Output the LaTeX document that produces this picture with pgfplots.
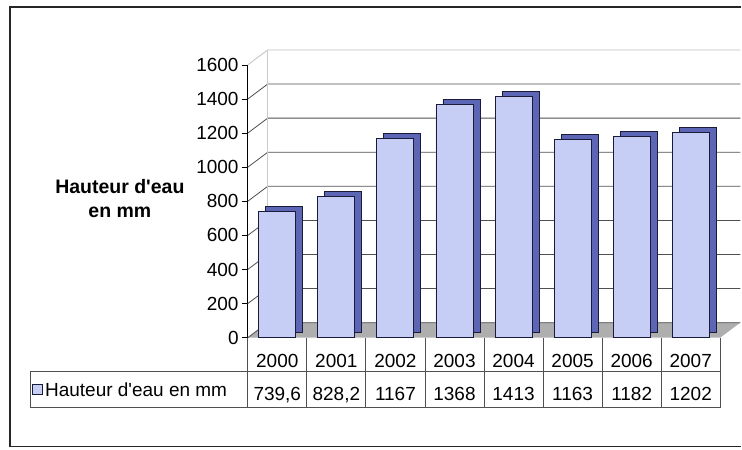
\documentclass[border=0pt]{standalone}
\usepackage{pgfplots}
\pgfplotsset{compat=1.18}
\usepackage{fontspec}
\setmainfont{Liberation Sans}
\definecolor{front}{HTML}{C6CEF5}
\definecolor{side}{HTML}{5C66B4}
\definecolor{edge}{HTML}{1A1A3A}
\definecolor{gridc}{HTML}{505050}
\definecolor{floorc}{HTML}{AEAEAE}
\begin{document}
\begin{tikzpicture}
\fill[white] (0,0) rectangle (742bp,450bp);
\draw[line width=1.5bp, black!85] (742bp,443bp) -- (10bp,443bp) -- (10bp,3bp) -- (742bp,3bp);
\node[font=\bfseries\fontsize{19.5bp}{24bp}\selectfont, align=center] at (120bp,251bp) {Hauteur d\textquotesingle eau\\en mm};
\begin{axis}[
  at={(248bp,112bp)}, anchor=south west,
  scale only axis, width=473bp, height=273bp,
  xmin=-0.5, xmax=7.5, ymin=0, ymax=1600,
  clip=false,
  axis lines*=left,
  x axis line style={draw=none},
  y axis line style={line width=0.8bp, black},
  xtick={0,...,7},
  xticklabels={{2000\\739,6},{2001\\828,2},{2002\\1167},{2003\\1368},{2004\\1413},{2005\\1163},{2006\\1182},{2007\\1202}},
  xtick style={draw=none},
  xticklabel style={align=center, font=\fontsize{19bp}{33bp}\selectfont, anchor=north, inner sep=0pt, yshift=-10bp},
  ytick={0,200,...,1600},
  ytick style={black, line width=0.8bp},
  tick align=outside, major tick length=6bp,
  yticklabel style={font=\fontsize{19bp}{20bp}\selectfont, inner sep=0pt, xshift=-3bp},
  /pgf/number format/assume math mode=true,
  /pgf/number format/1000 sep={},
]
\fill[floorc] (axis cs:-0.5,0) -- (axis cs:7.5,0) -- ++(canvas cs:x=20bp,y=15bp) -- ++(canvas cs:x=-473bp,y=0bp) -- cycle;
\pgfplotsinvokeforeach{0,200,...,1400}{
  \draw[gridc, line width=0.8bp] (axis cs:-0.5,#1) -- ++(canvas cs:x=20bp,y=15bp) -- ++(canvas cs:x=473bp,y=0bp);
}
\draw[gray!50, line width=0.8bp] (axis cs:-0.5,1600) -- ++(canvas cs:x=20bp,y=15bp) -- ++(canvas cs:x=473bp,y=0bp);
\draw[gray!40, line width=0.6bp] (axis cs:-0.5,0) ++(canvas cs:x=20bp,y=15bp) -- ++(canvas cs:x=0bp,y=273bp);
\addplot[ybar, bar shift=0pt, bar width=37bp, fill=side, draw=edge, line width=0.9bp, xshift=7bp, yshift=5bp]
  coordinates {(0,739.6) (1,828.2) (2,1167) (3,1368) (4,1413) (5,1163) (6,1182) (7,1202)};
\addplot[ybar, bar shift=0pt, bar width=37bp, fill=front, draw=edge, line width=0.9bp]
  coordinates {(0,739.6) (1,828.2) (2,1167) (3,1368) (4,1413) (5,1163) (6,1182) (7,1202)};
\pgfplotsinvokeforeach{-0.5,0.5,...,7.5}{
  \draw[gridc, line width=0.8bp] (axis cs:#1,0) -- ++(canvas cs:x=0bp,y=-70bp);
}
\end{axis}
\draw[gridc, line width=0.8bp] (30bp,78bp) -- (721bp,78bp);
\draw[gridc, line width=0.8bp] (30bp,42bp) -- (721bp,42bp);
\draw[gridc, line width=0.8bp] (30bp,78bp) -- (30bp,42bp);
\draw[edge, fill=front, line width=0.7bp] (32bp,55bp) rectangle (42bp,65bp);
\node[anchor=west, inner sep=0pt, font=\fontsize{19bp}{20bp}\selectfont] at (45bp,60bp) {Hauteur d\textquotesingle eau en mm};
\end{tikzpicture}
\end{document}
